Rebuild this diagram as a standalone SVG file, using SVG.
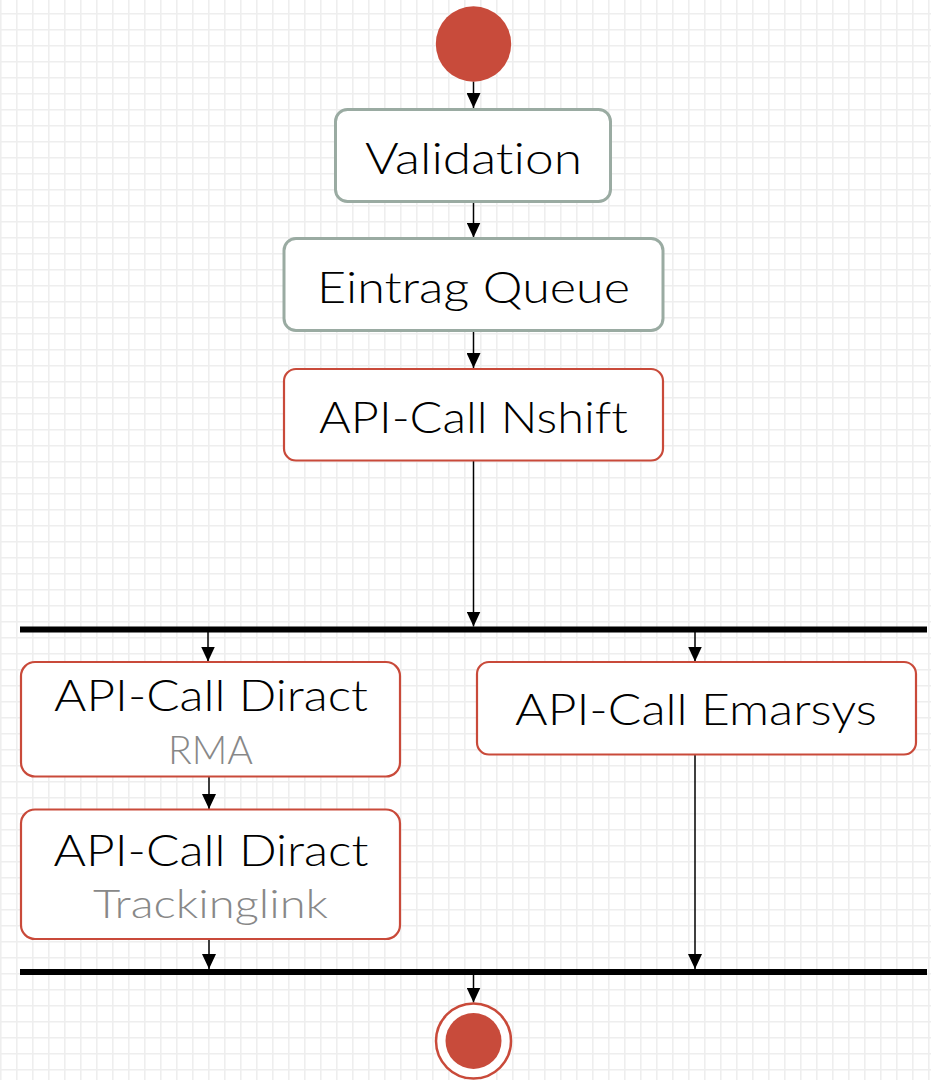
<svg xmlns="http://www.w3.org/2000/svg" width="931" height="1080" viewBox="0 0 931 1080">
<style>
.t{font-family:Lato,"Noto Sans","Liberation Sans",sans-serif;font-size:44px;font-weight:300;fill:#000;text-anchor:middle;font-variant-ligatures:none}
.s{font-family:Lato,"Noto Sans","Liberation Sans",sans-serif;font-size:40px;font-weight:300;fill:#888;text-anchor:middle;font-variant-ligatures:none}
.g{fill:#fff;stroke:#9aaba2;stroke-width:3}
.r{fill:#fff;stroke:#c94a3a;stroke-width:2.2}
.c{stroke:#000;stroke-width:1.5;fill:none;marker-end:url(#ah)}
.bar{fill:#000}
</style>
<defs>
<pattern id="grid" width="16" height="16" patternUnits="userSpaceOnUse" x="0" y="-3">
<path d="M0.8 0V16M0 0.8H16" stroke="#eeeeee" stroke-width="1.6" fill="none"/>
</pattern>
<marker id="ah" markerWidth="15" markerHeight="14" refX="15" refY="7" orient="auto" markerUnits="userSpaceOnUse">
<path d="M0 0L15 7L0 14Z" fill="#000"/>
</marker>
</defs>
<rect width="931" height="1080" fill="#fff"/>
<rect width="931" height="1080" fill="url(#grid)"/>
<g id="connectors">
<path class="c" d="M473.5 81.5V108"/>
<path class="c" d="M473.5 202.5V237.5"/>
<path class="c" d="M473.5 331.5V368"/>
<path class="c" d="M473.5 461V626.5"/>
<path class="c" d="M208 632V661.5"/>
<path class="c" d="M695 632V661.5"/>
<path class="c" d="M209 777V809"/>
<path class="c" d="M209 940V969"/>
<path class="c" d="M695 755V969"/>
<path class="c" d="M473.5 975V1002.5"/>
</g>
<g id="start"><circle cx="473.5" cy="44" r="37.7" fill="#c84b3b"/></g>
<g id="validation"><rect class="g" x="335.5" y="109.5" width="275" height="92" rx="12"/><text class="t" x="473.5" y="174" textLength="217" lengthAdjust="spacingAndGlyphs">Validation</text></g>
<g id="eintrag"><rect class="g" x="284" y="238.5" width="379" height="92" rx="12"/><text class="t" x="473.5" y="302.5" textLength="313" lengthAdjust="spacingAndGlyphs">Eintrag Queue</text></g>
<g id="nshift"><rect class="r" x="284" y="369" width="379" height="91.5" rx="12"/><text class="t" x="473.5" y="432.5" textLength="309" lengthAdjust="spacingAndGlyphs">API-Call Nshift</text></g>
<g id="fork"><rect class="bar" x="20" y="626.5" width="907" height="6"/></g>
<g id="diract-rma"><rect class="r" x="21" y="662" width="379" height="114.5" rx="14"/><text class="t" x="211" y="711" textLength="314" lengthAdjust="spacingAndGlyphs">API-Call Diract</text><text class="s" x="210.5" y="764" textLength="85" lengthAdjust="spacingAndGlyphs">RMA</text></g>
<g id="emarsys"><rect class="r" x="477" y="662" width="439" height="92.5" rx="12"/><text class="t" x="696" y="725" textLength="362" lengthAdjust="spacingAndGlyphs">API-Call Emarsys</text></g>
<g id="diract-tracking"><rect class="r" x="21" y="809.5" width="379" height="129.5" rx="14"/><text class="t" x="211" y="866" textLength="315" lengthAdjust="spacingAndGlyphs">API-Call Diract</text><text class="s" x="210.5" y="918" textLength="235" lengthAdjust="spacingAndGlyphs">Trackinglink</text></g>
<g id="join"><rect class="bar" x="20" y="969" width="907" height="6"/></g>
<g id="end"><circle cx="473.5" cy="1041" r="37.5" fill="#fff" stroke="#c94a3a" stroke-width="2.5"/><circle cx="473.5" cy="1041" r="28" fill="#c84b3b"/></g>
</svg>
